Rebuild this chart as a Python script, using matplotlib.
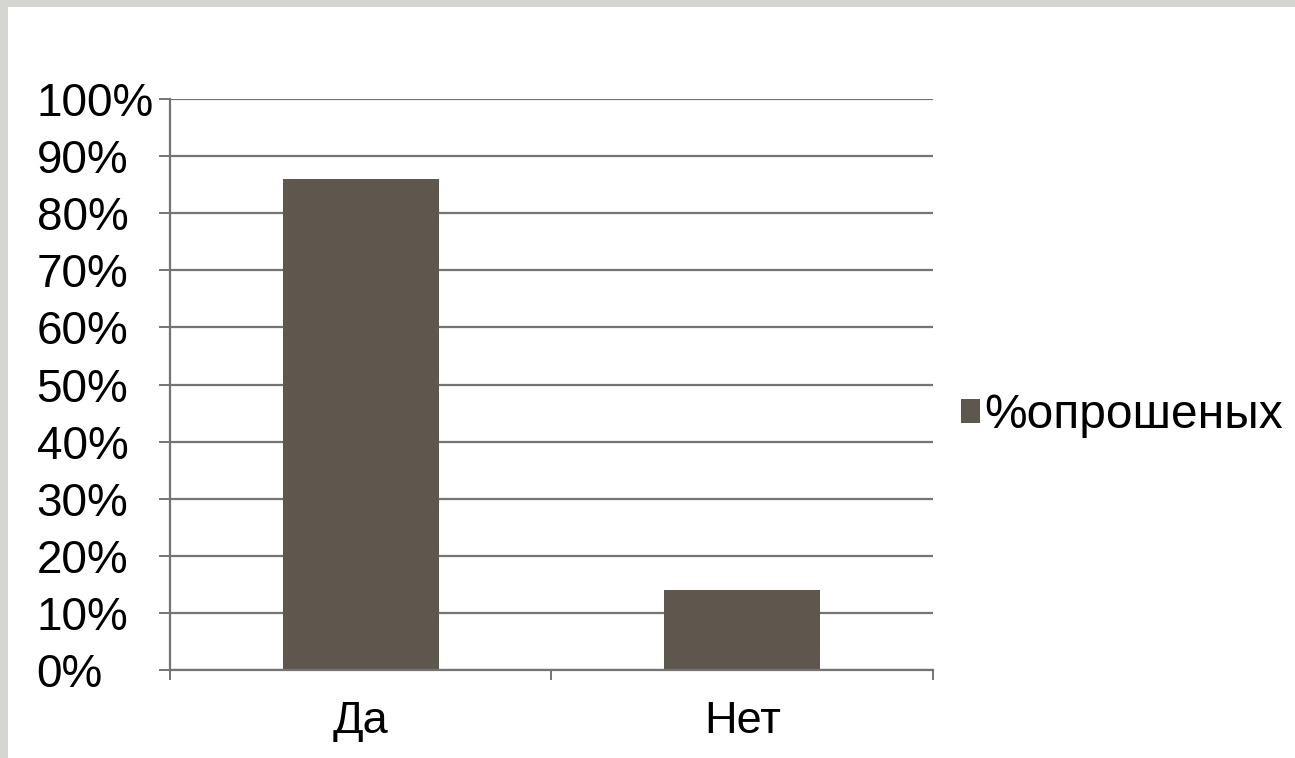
import matplotlib
matplotlib.use("Agg")
import matplotlib.pyplot as plt
from matplotlib.patches import Rectangle
from matplotlib.ticker import FixedLocator, PercentFormatter

# данные
categories = ['Да', 'Нет']
values = [86, 14]
series_name = '%опрошеных'
y_ticks = list(range(0, 101, 10))

plt.rcParams['font.family'] = ['Liberation Sans', 'DejaVu Sans']

fig = plt.figure(figsize=(12.95, 7.58), dpi=100)
fig.patch.set_facecolor('#d5d5d1')
# белая область слайда
fig.patches.append(Rectangle((8 / 1295, 0), 1, 1 - 7 / 758, transform=fig.transFigure,
                             facecolor='white', edgecolor='none', zorder=-10))

ax = fig.add_axes([170 / 1295, 1 - 670 / 758, (933 - 170) / 1295, (670 - 99) / 758])
ax.set_facecolor('none')

line_col = '#747474'
x = list(range(len(categories)))
ax.bar(x, values, width=0.41, color='#5e574e', label=series_name, zorder=3)

ax.set_xlim(-0.5, len(categories) - 0.5)
ax.set_ylim(0, 100)
ax.set_yticks(y_ticks)
ax.yaxis.set_major_formatter(PercentFormatter(decimals=0))
ax.grid(axis='y', color=line_col, linewidth=1.6, zorder=1)

# деления оси X на границах категорий, подписи по центру
ax.xaxis.set_major_locator(FixedLocator([i - 0.5 for i in range(len(categories) + 1)]))
ax.xaxis.set_major_formatter(plt.NullFormatter())
ax.xaxis.set_minor_locator(FixedLocator(x))
ax.set_xticklabels(categories, minor=True)
ax.tick_params(axis='x', which='minor', length=0, labelsize=32.5, pad=22)
ax.tick_params(axis='x', which='major', length=7.5, width=1.4, color=line_col)
# подписи оси Y выровнены по левому краю
ax.tick_params(axis='y', length=8, width=1.4, color=line_col, labelsize=33, pad=88)
for lbl in ax.get_yticklabels():
    lbl.set_horizontalalignment('left')
    lbl.set_verticalalignment('center_baseline')

for s in ['top', 'right']:
    ax.spines[s].set_visible(False)
for s in ['left', 'bottom']:
    ax.spines[s].set_color(line_col)
    ax.spines[s].set_linewidth(1.6)
    ax.spines[s].set_zorder(4)

ax.legend(loc='center left', bbox_to_anchor=(1.0, 0.445), frameon=False, fontsize=34.5,
          handlelength=0.4, handleheight=0.4, handletextpad=0.08, borderaxespad=0.18)

fig.savefig('out.png', dpi=100, facecolor=fig.get_facecolor())
